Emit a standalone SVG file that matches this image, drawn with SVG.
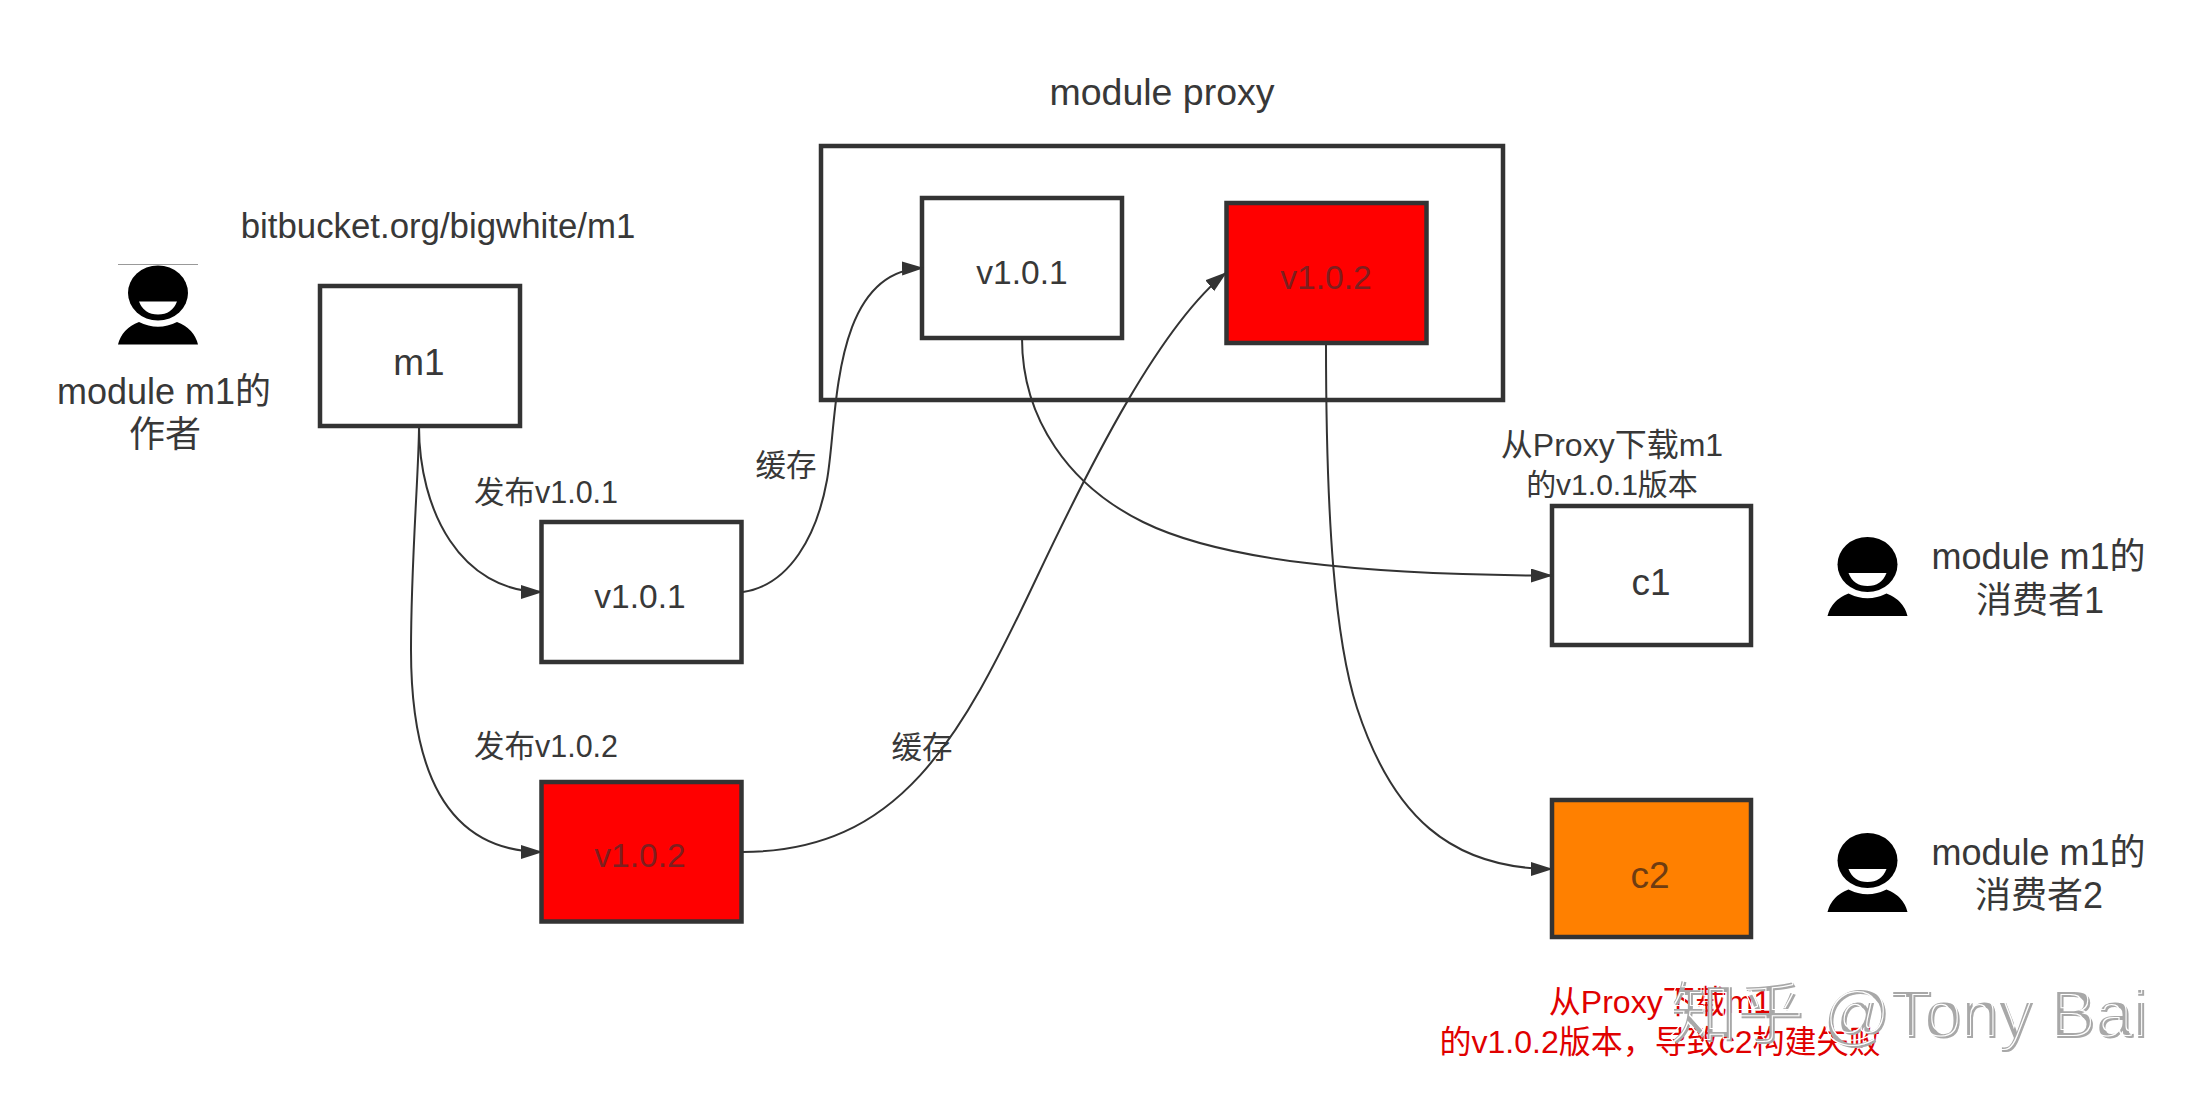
<svg xmlns="http://www.w3.org/2000/svg" width="2205" height="1116" viewBox="0 0 2205 1116">
<style>
text{font-family:"Liberation Sans","Noto Sans CJK SC",sans-serif;fill:#383838;text-anchor:middle}
.box{fill:#fff;stroke:#333;stroke-width:4.5}
.red{fill:#f00}
.orange{fill:#ff8000}
.v{font-size:33.5px}
.big{font-size:37px}
.lab{font-size:36px}
.lab2{font-size:34.8px}
.title{font-size:37.5px}
.sm{font-size:30.5px}
.onred{fill:#7d1f1f}
.onorange{fill:#6e3c12}
.err{font-size:32px;fill:#e00000}
.wm{font-size:67px;fill:#a8a8a8;text-anchor:start;filter:url(#wmf)}
.conn{fill:none;stroke:#333;stroke-width:2;marker-end:url(#arrow)}
</style>
<defs>
<marker id="arrow" markerUnits="userSpaceOnUse" markerWidth="23" markerHeight="16" refX="22" refY="7" orient="auto"><path d="M0 0L22 7L0 14Z" fill="#333"/></marker>
<filter id="wmf" x="-5%" y="-15%" width="110%" height="130%">
<feMorphology in="SourceAlpha" operator="dilate" radius="1.3" result="d"/>
<feComposite in="d" in2="SourceAlpha" operator="out" result="ring"/>
<feOffset in="ring" dx="-3" dy="-3" result="o"/>
<feFlood flood-color="#fff"/>
<feComposite in2="o" operator="in" result="w"/>
<feMerge><feMergeNode in="SourceGraphic"/><feMergeNode in="w"/></feMerge>
</filter>
<g id="person">
<ellipse cx="40" cy="28.5" rx="30" ry="27.5" fill="#000"/>
<path d="M21 37H59Q54 50 40 50Q26 50 21 37Z" fill="#fff"/>
<path d="M0 80Q4 64 21 57.5Q40 67 59 57.5Q76 64 80 80Z" fill="#000"/>
</g>
</defs>
<rect width="2205" height="1116" fill="#fff"/>
<g id="proxy"><rect class="box" x="821" y="146" width="682" height="254"/><text class="title" x="1162" y="105">module proxy</text></g>
<g id="proxy-v101"><rect class="box" x="922" y="198" width="200" height="140"/><text class="v" x="1022" y="284">v1.0.1</text></g>
<g id="proxy-v102"><rect class="box red" x="1226.5" y="203" width="200" height="140"/><text class="v onred" x="1326" y="289">v1.0.2</text></g>
<g id="m1"><rect class="box" x="320" y="286" width="200" height="140"/><text class="big" x="419" y="375">m1</text></g>
<g id="repo-label"><text class="lab2" x="438" y="238">bitbucket.org/bigwhite/m1</text></g>
<g id="author"><path d="M118 264.5H198" stroke="#999" stroke-width="1" fill="none"/><use href="#person" x="118" y="264.5"/><text class="lab" x="164" y="404">module m1的</text><text class="lab" x="165" y="447">作者</text></g>
<g id="v101"><rect class="box" x="541.5" y="522" width="200" height="140"/><text class="v" x="640" y="608">v1.0.1</text></g>
<g id="v102"><rect class="box red" x="541.5" y="782" width="200" height="139.5"/><text class="v onred" x="640" y="867">v1.0.2</text></g>
<g id="c1"><rect class="box" x="1552" y="506" width="199" height="139"/><text class="big" x="1651" y="595">c1</text></g>
<g id="c2"><rect class="box orange" x="1552" y="800" width="199" height="137"/><text class="big onorange" x="1650" y="888">c2</text></g>
<g id="consumer1"><use href="#person" x="1827.5" y="536"/><text class="lab" x="2038.5" y="569">module m1的</text><text class="lab" x="2040" y="613">消费者1</text></g>
<g id="consumer2"><use href="#person" x="1827.5" y="832"/><text class="lab" x="2038.5" y="865">module m1的</text><text class="lab" x="2039" y="908">消费者2</text></g>
<g id="connectors">
<path class="conn" d="M419 426C419 510 460 592 543 592"/>
<path class="conn" d="M419 426C419 470 411 560 411 650C411 760 440 852 543 852"/>
<path class="conn" d="M743 592C790 585 817 535 827 480C838 420 830 270 924 268"/>
<path class="conn" d="M742 852C900 852 960 740 1037 577C1090 465 1160 325 1227 272"/>
<path class="conn" d="M1022 338C1022 420 1070 486 1143 522C1220 560 1360 575 1553 575.6"/>
<path class="conn" d="M1326 343C1326 520 1335 640 1357 708C1392 815 1450 869 1553 869"/>
</g>
<g id="labels">
<text class="sm" x="546" y="503">发布v1.0.1</text>
<text class="sm" x="546" y="757">发布v1.0.2</text>
<text class="sm" x="786" y="476">缓存</text>
<text class="sm" x="922" y="758">缓存</text>
<text style="font-size:32px" x="1612" y="456">从Proxy下载m1</text>
<text style="font-size:30px" x="1612" y="495">的v1.0.1版本</text>
<text class="err" x="1660" y="1013">从Proxy下载m1</text>
<text class="err" x="1660" y="1053">的v1.0.2版本，导致c2构建失败</text>
</g>
<g id="watermark"><text class="wm" x="1671" y="1038">知乎 @Tony Bai</text></g>
</svg>
